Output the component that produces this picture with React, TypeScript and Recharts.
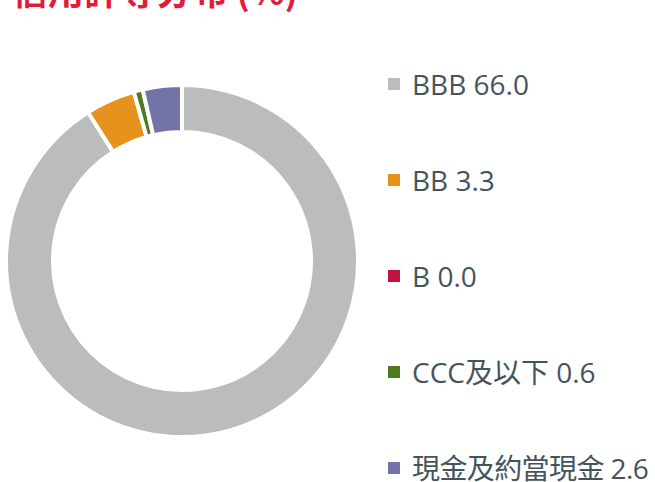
import React from 'react';
import { PieChart, Pie, Cell } from 'recharts';

const categories = ['BBB', 'BB', 'B', 'CCC及以下', '現金及約當現金'];
const values = [66.0, 3.3, 0.0, 0.6, 2.6];
const colors = ['#bbbcbe', '#e8921e', '#c2123e', '#4f7b1f', '#7373a9'];
const title = '信用評等分布 (%)';

const data = categories.map((name, i) => ({ name, value: values[i] }));

export default function App() {
  return (
    <div style={{ position: 'absolute', left: 0, top: 0, width: 655, height: 482 }}>
      <svg width={655} height={40} style={{ position: 'absolute', left: 0, top: 0 }}>
        <text
          x={12}
          y={5}
          fill="#e31b3a"
          fontSize={36}
          fontWeight={700}
          fontFamily='"Noto Sans CJK TC", "Open Sans", sans-serif'
        >
          {title}
        </text>
      </svg>
      <div style={{ position: 'absolute', left: 0, top: 0 }}>
        <PieChart width={655} height={482} margin={{ top: 0, right: 0, bottom: 0, left: 0 }}>
          <Pie
            data={data}
            dataKey="value"
            nameKey="name"
            cx={182}
            cy={261}
            outerRadius={176}
            innerRadius={129}
            startAngle={90}
            endAngle={-270}
            stroke="#ffffff"
            strokeWidth={4}
            isAnimationActive={false}
          >
            {data.map((d, i) => (
              <Cell key={d.name} fill={colors[i]} />
            ))}
          </Pie>
        </PieChart>
      </div>
      <div style={{ position: 'absolute', left: 388, top: 36, width: 267 }}>
        {data.map((d, i) => (
          <div key={d.name} style={{ height: 96, display: 'flex', alignItems: 'center' }}>
            <span
              style={{
                display: 'inline-block',
                width: 12,
                height: 12,
                background: colors[i],
                marginRight: 12,
                flex: 'none',
              }}
            />
            <span
              style={{
                fontFamily: '"Open Sans", "Noto Sans CJK TC", sans-serif',
                fontSize: 28,
                letterSpacing: i === 4 ? -0.6 : 0,
                color: '#44545f',
                whiteSpace: 'nowrap',
                lineHeight: 1,
              }}
            >
              {d.name} {d.value.toFixed(1)}
            </span>
          </div>
        ))}
      </div>
    </div>
  );
}
